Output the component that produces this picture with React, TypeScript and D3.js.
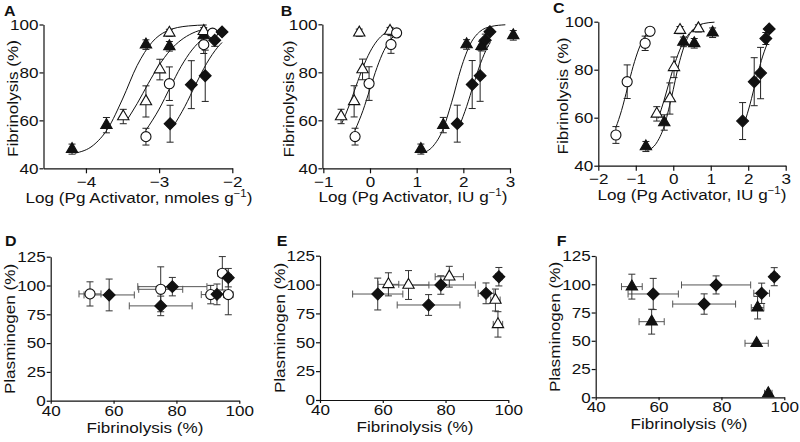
import { useEffect, useRef } from 'react';
import * as d3 from 'd3';

type Pt = [number, number, number]; // log dose, fibrinolysis, error
type Sp = [number, number, number, number]; // fibrinolysis, plasminogen, fib err, plasm err
type Cv = [number, number];

// ---- Panel A (log nmoles g-1) ----
const aTriFilled: Pt[] = [[-4.19, 48, 2.1], [-3.72, 58, 3.2], [-3.18, 91.6, 2], [-2.86, 90.9, 2], [-2.39, 95.4, 2]];
const aTriOpen: Pt[] = [[-3.49, 61.6, 3], [-3.18, 67.9, 6.5], [-2.99, 81.2, 4.3], [-2.86, 96.5, 1.5], [-2.39, 97.2, 1.5]];
const aCircle: Pt[] = [[-3.18, 53.2, 3.5], [-2.86, 75.3, 7], [-2.39, 91.6, 3.7], [-2.27, 96.4, 1.5]];
const aDiamond: Pt[] = [[-2.85, 58.6, 7.7], [-2.56, 74.9, 10], [-2.37, 78.6, 10.7], [-2.24, 93.4, 2.5], [-2.14, 96.9, 1]];
const aFitTriFilled: Cv[] = [[-4.15, 46.3], [-3.9, 49.6], [-3.7, 56.6], [-3.5, 68.9], [-3.3, 82.9], [-3.1, 92.5], [-2.9, 97.2], [-2.6, 99.4], [-2.35, 99.8]];
const aFitTriOpen: Cv[] = [[-3.44, 60.1], [-3.3, 67.0], [-3.15, 75.3], [-3.0, 83.0], [-2.85, 89.2], [-2.7, 93.5], [-2.55, 96.3], [-2.35, 98.3]];
const aFitCircle: Cv[] = [[-3.18, 55.9], [-3.0, 64.7], [-2.85, 73.7], [-2.7, 82.5], [-2.55, 89.4], [-2.4, 94.1], [-2.22, 97.2]];
const aFitDiamond: Cv[] = [[-2.8, 57.8], [-2.65, 65.7], [-2.5, 75.0], [-2.35, 83.8], [-2.2, 90.5], [-2.14, 92.5]];
const aXTicks = [-4, -3, -2];

// ---- Panel B (log IU g-1) ----
const bTriOpen: Pt[] = [[-0.62, 61.6, 3], [-0.34, 67.9, 6.5], [-0.16, 81.2, 4.3], [-0.23, 96.5, 1.5], [0.43, 97.2, 1.5]];
const bCircle: Pt[] = [[-0.32, 53.2, 3.5], [-0.02, 75.3, 7], [0.45, 91.6, 3.7], [0.57, 96.4, 1.5]];
const bTriFilled: Pt[] = [[1.09, 48, 2.1], [1.57, 58, 3.2], [2.07, 91.6, 2], [2.39, 90.9, 2], [3.07, 95.4, 2]];
const bDiamond: Pt[] = [[1.87, 58.6, 7.7], [2.19, 74.9, 10], [2.36, 78.6, 10.7], [2.47, 93.4, 2.5], [2.57, 96.9, 1]];
const bFitTriOpen: Cv[] = [[-0.6, 58.9], [-0.45, 66.0], [-0.3, 74.2], [-0.15, 82.1], [0, 88.5], [0.15, 93.1], [0.3, 96.0], [0.45, 97.7]];
const bFitCircle: Cv[] = [[-0.32, 55.9], [-0.15, 64.1], [0, 73.1], [0.15, 82.0], [0.3, 89.1], [0.45, 93.8], [0.57, 96.2]];
const bFitTriFilled: Cv[] = [[1.1, 46.2], [1.35, 49.2], [1.55, 55.6], [1.75, 67.5], [1.95, 81.6], [2.15, 91.8], [2.35, 96.9], [2.6, 99.1], [2.9, 99.8]];
const bFitDiamond: Cv[] = [[1.92, 57.8], [2.07, 65.7], [2.22, 75.0], [2.37, 83.8], [2.52, 90.5], [2.58, 92.5]];
const bXTicks = [-1, 0, 1, 2, 3];

// ---- Panel C (log IU g-1) ----
const cCircle: Pt[] = [[-1.53, 52.8, 3.5], [-1.23, 75, 7], [-0.75, 91, 3], [-0.62, 96, 1.5]];
const cTriOpen: Pt[] = [[-0.44, 61.6, 3], [-0.09, 68, 6.5], [0.02, 81, 4.3], [0.18, 96.5, 1.5], [0.67, 97.2, 1.5]];
const cTriFilled: Pt[] = [[-0.73, 48, 2.1], [-0.24, 58, 3.2], [0.27, 91.6, 2], [0.56, 91, 2], [1.05, 95.4, 2]];
const cDiamond: Pt[] = [[1.85, 58.6, 7.7], [2.16, 75, 10], [2.33, 78.6, 10.7], [2.47, 93, 2.5], [2.56, 97, 1]];
const cFitCircle: Cv[] = [[-1.53, 55.9], [-1.38, 63.0], [-1.22, 72.5], [-1.07, 81.4], [-0.92, 88.6], [-0.77, 93.6], [-0.62, 96.5]];
const cFitTriOpen: Cv[] = [[-0.4, 59.7], [-0.25, 67.0], [-0.1, 75.3], [0.05, 83.0], [0.2, 89.2], [0.35, 93.5], [0.5, 96.3], [0.65, 97.9]];
const cFitTriFilled: Cv[] = [[-0.69, 46.3], [-0.45, 49.4], [-0.25, 56.1], [-0.05, 68.2], [0.15, 82.3], [0.35, 92.2], [0.55, 97.0], [0.8, 99.2], [1.1, 99.8]];
const cFitDiamond: Cv[] = [[1.9, 57.8], [2.05, 65.7], [2.2, 75.0], [2.35, 83.8], [2.5, 90.5], [2.56, 92.5]];
const cXTicks = [-2, -1, 0, 1, 2, 3];

const fibTicks = [40, 60, 80, 100];
const plasTicks = [0, 25, 50, 75, 100, 125];

// ---- Panels D-F (fibrinolysis vs plasminogen) ----
const dCircle: Sp[] = [[52.5, 92.7, 3.5, 10.5], [75, 96.7, 7, 19.5], [90.9, 92.1, 3, 8], [94.6, 110.6, 1.5, 14.5], [96.5, 92.1, 1.5, 17.5]];
const dDiamond: Sp[] = [[58.6, 91.8, 8, 13.8], [75, 82.3, 10, 8.5], [78.7, 99, 11, 8], [92.9, 92.3, 2.5, 9], [96.5, 106.8, 1, 8]];
const eTriOpen: Sp[] = [[61.8, 100.2, 3.3, 10], [68.2, 99.6, 6.5, 12.5], [81.2, 106.8, 4.5, 9], [95.9, 86.6, 1.5, 9.5], [96.7, 65.5, 1.5, 11]];
const eDiamond: Sp[] = [[58.4, 91.8, 8, 13.8], [74.6, 82.3, 10, 9], [78.5, 99.6, 11, 8], [92.9, 92.4, 2.5, 9], [97, 106.8, 1, 8]];
const fTriFilled: Sp[] = [[51.5, 97.9, 3.3, 11], [57.8, 66.9, 4, 11], [91.5, 79.3, 2, 10], [91.2, 47.8, 3.7, 0], [94.9, 3.5, 1.2, 0]];
const fDiamond: Sp[] = [[58.3, 91.4, 8, 13.8], [74.5, 82.5, 10, 9], [78.3, 99.4, 11, 8], [92.8, 92, 2.5, 9], [96.8, 106.7, 1, 8]];

const FONT = '"Liberation Sans", Arial, Helvetica, sans-serif';
const STRETCH = 'scaleX(1.14)';
type Kind = 'triF' | 'triO' | 'circ' | 'dia';
type Sel = d3.Selection<SVGGElement, unknown, null, undefined>;

const fmt = (d: d3.NumberValue) => String(d).replace('-', '\u2212');

// the reference lettering is a bit wider than Arial, so stretch each text around its anchor
function stretch(sel: d3.Selection<any, any, any, any>, origin: string) {
  sel.style('transform-box', 'fill-box').style('transform-origin', origin).style('transform', STRETCH);
}

function drawMarker(g: Sel, kind: Kind, cx: number, cy: number) {
  const gen =
    kind === 'circ'
      ? d3.symbol().type(d3.symbolCircle).size(80)
      : kind === 'dia'
      ? d3.symbol().type(d3.symbolSquare).size(70)
      : d3.symbol().type(d3.symbolTriangle).size(56);
  g.append('path')
    .attr('d', gen()!)
    .attr('transform', `translate(${cx},${cy})${kind === 'dia' ? ' rotate(45)' : ''}`)
    .attr('fill', kind === 'triO' || kind === 'circ' ? '#fff' : '#111')
    .attr('stroke', '#111')
    .attr('stroke-width', 1.1);
}

function frame(
  svg: d3.Selection<SVGSVGElement, unknown, null, undefined>,
  opts: {
    label: string; lx: number; ly: number;
    xd: [number, number]; xr: [number, number]; xt: number[];
    yd: [number, number]; yr: [number, number]; yt: number[];
    xTick: number; xPad: number;
  }
) {
  const g = svg.append('g') as Sel;
  const x = d3.scaleLinear().domain(opts.xd).range(opts.xr);
  const y = d3.scaleLinear().domain(opts.yd).range(opts.yr);
  const xa = g.append('g').attr('transform', `translate(0,${opts.yr[0]})`)
    .call(d3.axisBottom(x).tickValues(opts.xt).tickSize(opts.xTick).tickPadding(opts.xPad).tickSizeOuter(0).tickFormat(fmt));
  const ya = g.append('g').attr('transform', `translate(${opts.xr[0]},0)`)
    .call(d3.axisLeft(y).tickValues(opts.yt).tickSize(4).tickPadding(1).tickSizeOuter(0).tickFormat(fmt));
  [xa, ya].forEach((a) => {
    a.attr('font-size', 15).attr('font-family', FONT);
    a.selectAll('path,line').attr('stroke', '#111').attr('stroke-width', 1.2);
    a.selectAll('text').attr('fill', '#111');
  });
  stretch(xa.selectAll('text'), 'center');
  stretch(ya.selectAll('text'), 'right center');
  const lab = g.append('text').attr('x', opts.lx).attr('y', opts.ly).attr('font-family', FONT)
    .attr('font-weight', 700).attr('font-size', 14).attr('fill', '#111').text(opts.label);
  stretch(lab, 'left center');
  return { g, x, y };
}

function yTitle(g: Sel, text: string, x: number, cy: number) {
  const t = g.append('g').attr('transform', `translate(${x},${cy}) rotate(-90)`)
    .append('text').attr('text-anchor', 'middle')
    .attr('font-family', FONT).attr('font-size', 15).attr('fill', '#111').text(text);
  stretch(t, 'center');
}

function xTitle(g: Sel, text: string, cx: number, by: number) {
  const t = g.append('text').attr('x', cx).attr('y', by).attr('text-anchor', 'middle')
    .attr('font-family', FONT).attr('font-size', 15).attr('fill', '#111').text(text);
  stretch(t, 'center');
}

function logTitle(g: Sel, unit: string, cx: number, by: number) {
  const t = g.append('text').attr('x', cx).attr('y', by).attr('text-anchor', 'middle')
    .attr('font-family', FONT).attr('font-size', 15).attr('fill', '#111');
  t.append('tspan').text(`Log (Pg Activator, ${unit} g`);
  t.append('tspan').attr('dy', -6).attr('font-size', 10).text('\u22121');
  t.append('tspan').attr('dy', 6).text(')');
  stretch(t, 'center');
}

export default function App() {
  const svgRef = useRef<SVGSVGElement>(null);

  useEffect(() => {
    if (!svgRef.current) return;
    const svg = d3.select(svgRef.current);
    svg.selectAll('*').remove();

    const line = d3.line<Cv>().curve(d3.curveMonotoneX);

    const dosePanel = (
      p: ReturnType<typeof frame>,
      fits: Cv[][],
      series: [Pt[], Kind][]
    ) => {
      const { g, x, y } = p;
      line.x((d) => x(d[0])).y((d) => y(d[1]));
      fits.forEach((f) => {
        g.append('path').attr('d', line(f)!).attr('fill', 'none').attr('stroke', '#111').attr('stroke-width', 1);
      });
      series.forEach(([pts]) => {
        pts.forEach(([vx, vy, e]) => {
          const cx = x(vx);
          g.append('line').attr('x1', cx).attr('x2', cx).attr('y1', y(vy - e)).attr('y2', y(vy + e))
            .attr('stroke', '#222').attr('stroke-width', 1);
          [vy - e, vy + e].forEach((v) => {
            g.append('line').attr('x1', cx - 3.5).attr('x2', cx + 3.5).attr('y1', y(v)).attr('y2', y(v))
              .attr('stroke', '#222').attr('stroke-width', 1);
          });
        });
      });
      series.forEach(([pts, kind]) => pts.forEach(([vx, vy]) => drawMarker(g, kind, x(vx), y(vy))));
    };

    const scatterPanel = (p: ReturnType<typeof frame>, series: [Sp[], Kind][]) => {
      const { g, x, y } = p;
      series.forEach(([pts]) => {
        pts.forEach(([fx, py, ex, ey]) => {
          const cx = x(fx);
          const cy = y(py);
          if (ex > 0) {
            g.append('line').attr('x1', x(fx - ex)).attr('x2', x(fx + ex)).attr('y1', cy).attr('y2', cy)
              .attr('stroke', '#555').attr('stroke-width', 1);
            [fx - ex, fx + ex].forEach((v) => {
              g.append('line').attr('x1', x(v)).attr('x2', x(v)).attr('y1', cy - 3.5).attr('y2', cy + 3.5)
                .attr('stroke', '#555').attr('stroke-width', 1);
            });
          }
          if (ey > 0) {
            g.append('line').attr('x1', cx).attr('x2', cx).attr('y1', y(py - ey)).attr('y2', y(py + ey))
              .attr('stroke', '#333').attr('stroke-width', 1);
            [py - ey, py + ey].forEach((v) => {
              g.append('line').attr('x1', cx - 3.5).attr('x2', cx + 3.5).attr('y1', y(v)).attr('y2', y(v))
                .attr('stroke', '#333').attr('stroke-width', 1);
            });
          }
        });
      });
      series.forEach(([pts, kind]) => pts.forEach(([fx, py]) => drawMarker(g, kind, x(fx), y(py))));
    };

    // A
    const pA = frame(svg, { label: 'A', lx: 4, ly: 16.5, xd: [-4.58, -2], xr: [43.5, 232.3], xt: aXTicks, yd: [40, 100], yr: [168.3, 24.5], yt: fibTicks, xTick: 5, xPad: 3 });
    dosePanel(pA, [aFitTriFilled, aFitTriOpen, aFitCircle, aFitDiamond],
      [[aTriFilled, 'triF'], [aTriOpen, 'triO'], [aCircle, 'circ'], [aDiamond, 'dia']]);
    yTitle(pA.g, 'Fibrinolysis (%)', 17.5, 98.5);
    logTitle(pA.g, 'nmoles', 139, 203.3);

    // B
    const pB = frame(svg, { label: 'B', lx: 280.7, ly: 15.8, xd: [-1.02, 3], xr: [322.4, 510], xt: bXTicks, yd: [40, 100], yr: [168.3, 24.3], yt: fibTicks, xTick: 5, xPad: 3 });
    dosePanel(pB, [bFitTriOpen, bFitCircle, bFitTriFilled, bFitDiamond],
      [[bTriOpen, 'triO'], [bCircle, 'circ'], [bTriFilled, 'triF'], [bDiamond, 'dia']]);
    yTitle(pB.g, 'Fibrinolysis (%)', 294, 99);
    logTitle(pB.g, 'IU', 413, 202.5);

    // C
    const pC = frame(svg, { label: 'C', lx: 553, ly: 13.3, xd: [-2, 3], xr: [598.3, 785.7], xt: cXTicks, yd: [40, 100], yr: [165.7, 21.7], yt: fibTicks, xTick: 5, xPad: 3 });
    dosePanel(pC, [cFitCircle, cFitTriOpen, cFitTriFilled, cFitDiamond],
      [[cCircle, 'circ'], [cTriOpen, 'triO'], [cTriFilled, 'triF'], [cDiamond, 'dia']]);
    yTitle(pC.g, 'Fibrinolysis (%)', 567.7, 96);
    logTitle(pC.g, 'IU', 692, 200);

    // D
    const pD = frame(svg, { label: 'D', lx: 5, ly: 245.7, xd: [40, 100], xr: [50.7, 239.3], xt: fibTicks, yd: [0, 125], yr: [400.7, 256.7], yt: plasTicks, xTick: 3, xPad: 1.5 });
    scatterPanel(pD, [[dCircle, 'circ'], [dDiamond, 'dia']]);
    yTitle(pD.g, 'Plasminogen (%)', 14.5, 329);
    xTitle(pD.g, 'Fibrinolysis (%)', 145, 433.5);

    // E
    const pE = frame(svg, { label: 'E', lx: 276.7, ly: 245.7, xd: [40, 100], xr: [320, 508.3], xt: fibTicks, yd: [0, 125], yr: [400, 255.7], yt: plasTicks, xTick: 3, xPad: 1.5 });
    scatterPanel(pE, [[eDiamond, 'dia'], [eTriOpen, 'triO']]);
    yTitle(pE.g, 'Plasminogen (%)', 284.5, 328);
    xTitle(pE.g, 'Fibrinolysis (%)', 415, 432.5);

    // F
    const pF = frame(svg, { label: 'F', lx: 556.7, ly: 245.7, xd: [40, 100], xr: [595.7, 784.3], xt: fibTicks, yd: [0, 125], yr: [397.3, 256], yt: plasTicks, xTick: 3, xPad: 1.5 });
    scatterPanel(pF, [[fDiamond, 'dia'], [fTriFilled, 'triF']]);
    yTitle(pF.g, 'Plasminogen (%)', 559.5, 327);
    xTitle(pF.g, 'Fibrinolysis (%)', 689, 429);
  }, []);

  return (
    <svg
      ref={svgRef}
      width={800}
      height={442}
      style={{ position: 'absolute', left: 0, top: 0, background: '#fff' }}
      role="img"
      aria-label="Fibrinolysis dose response and plasminogen panels"
    />
  );
}
